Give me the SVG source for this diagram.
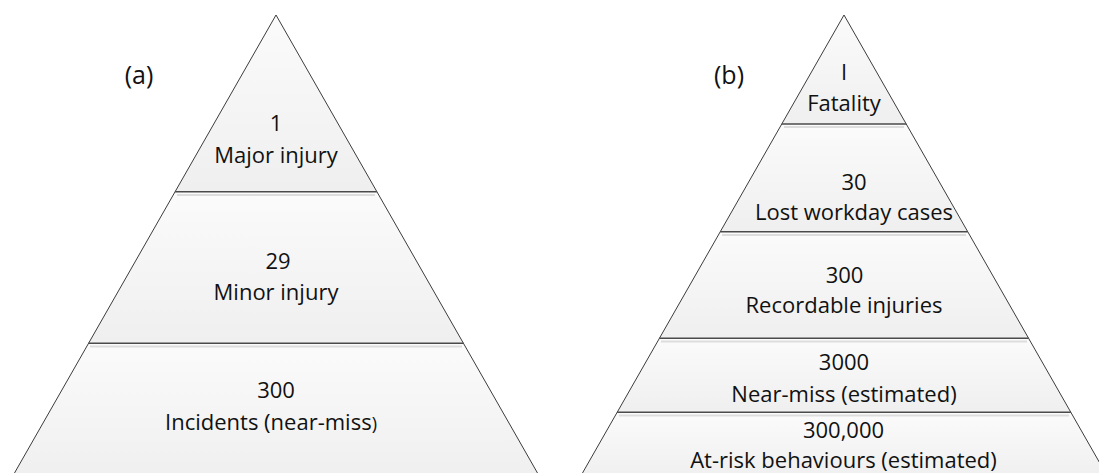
<svg xmlns="http://www.w3.org/2000/svg" width="1099" height="473" viewBox="0 0 1099 473">
<defs>
<linearGradient id="bandFill" x1="0" y1="0" x2="0" y2="1">
<stop offset="0" stop-color="#fbfbfb"/>
<stop offset="1" stop-color="#efefef"/>
</linearGradient>
</defs>
<style>
.band{fill:url(#bandFill);stroke:none}
.edge{fill:none;stroke:#3c3c3c;stroke-width:1}
.div{stroke:#4a4a4a;stroke-width:1.4}
.shadow{stroke:#dddddd;stroke-width:2}
text{font-family:"Open Sans","Liberation Sans",sans-serif;font-size:22px;fill:#111111;text-anchor:middle}
.lbl{font-size:25px}
</style>
<rect width="1099" height="473" fill="#ffffff"/>

<g id="pyramid-a">
<g id="a-band-1">
<polygon class="band" points="276,15 376.9,191.7 175.1,191.7"/>
<text x="276" y="131">1</text>
<text x="276" y="162.5">Major injury</text>
</g>
<g id="a-band-2">
<polygon class="band" points="175.1,191.7 376.9,191.7 463.5,343.3 88.5,343.3"/>
<text x="278" y="269.3">29</text>
<text x="276" y="300">Minor injury</text>
</g>
<g id="a-band-3">
<polygon class="band" points="88.5,343.3 463.5,343.3 541.5,480 10.5,480"/>
<text x="276" y="398.3">300</text>
<text x="271" y="430">Incidents (near-miss<tspan font-size="18">)</tspan></text>
</g>
<path class="edge" d="M10.5,480 L276,15 L541.5,480"/>
<line class="shadow" x1="177" y1="195" x2="375" y2="195"/>
<line class="div" x1="175.1" y1="191.7" x2="376.9" y2="191.7"/>
<line class="shadow" x1="90" y1="346.5" x2="462" y2="346.5"/>
<line class="div" x1="88.5" y1="343.3" x2="463.5" y2="343.3"/>
<text id="label-a" class="lbl" x="139" y="84">(a)</text>
</g>

<g id="pyramid-b">
<g id="b-band-1">
<polygon class="band" points="844,15 906.2,124 781.8,124"/>
<text x="844" y="80">I</text>
<text x="844" y="110.7">Fatality</text>
</g>
<g id="b-band-2">
<polygon class="band" points="781.8,124 906.2,124 967.7,231.7 720.3,231.7"/>
<text x="854" y="190">30</text>
<text x="854" y="220">Lost workday cases</text>
</g>
<g id="b-band-3">
<polygon class="band" points="720.3,231.7 967.7,231.7 1028.6,338.3 659.4,338.3"/>
<text x="844.5" y="283.3">300</text>
<text x="844" y="313.3">Recordable injuries</text>
</g>
<g id="b-band-4">
<polygon class="band" points="659.4,338.3 1028.6,338.3 1070.9,412.3 617.1,412.3"/>
<text x="844" y="370">3000</text>
<text x="844" y="401.7">Near-miss (estimated)</text>
</g>
<g id="b-band-5">
<polygon class="band" points="617.1,412.3 1070.9,412.3 1109.5,480 578.5,480"/>
<text x="843.5" y="437.5">300,000</text>
<text x="843.5" y="467.5">At-risk behaviours (estimated)</text>
</g>
<path class="edge" d="M578.5,480 L844,15 L1109.5,480"/>
<line class="shadow" x1="784" y1="127" x2="904" y2="127"/>
<line class="div" x1="781.8" y1="124" x2="906.2" y2="124"/>
<line class="shadow" x1="722" y1="235" x2="966" y2="235"/>
<line class="div" x1="720.3" y1="231.7" x2="967.7" y2="231.7"/>
<line class="shadow" x1="661" y1="341.5" x2="1027" y2="341.5"/>
<line class="div" x1="659.4" y1="338.3" x2="1028.6" y2="338.3"/>
<line class="shadow" x1="619" y1="415.5" x2="1069" y2="415.5"/>
<line class="div" x1="617.1" y1="412.3" x2="1070.9" y2="412.3"/>
<text id="label-b" class="lbl" x="729" y="83.5">(b)</text>
</g>
</svg>
